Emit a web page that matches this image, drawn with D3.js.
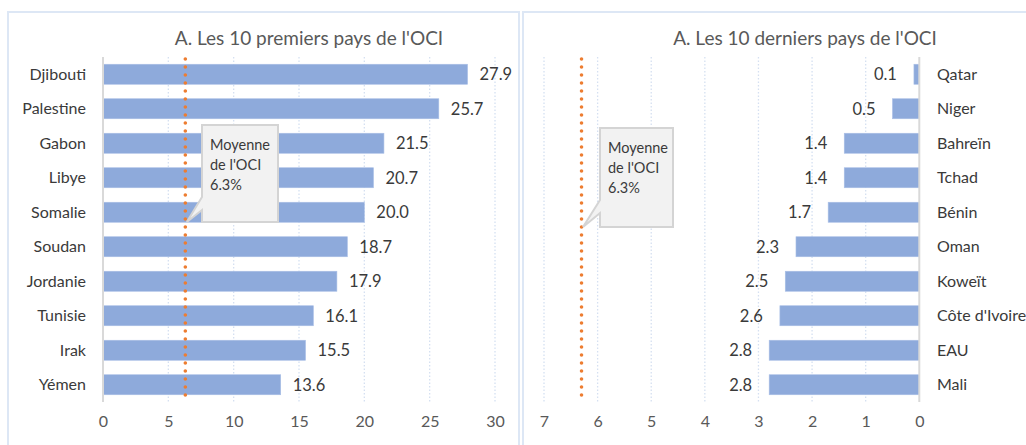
<!DOCTYPE html>
<html>
<head>
<meta charset="utf-8">
<script src="https://cdn.jsdelivr.net/npm/d3@7"></script>
<style>
  html, body { margin: 0; padding: 0; background: #ffffff; overflow: hidden; }
  svg { display: block; font-family: "Lato", "Open Sans", sans-serif; }
</style>
</head>
<body>
<svg id="chart" width="1026" height="445"></svg>
<script>
// ---- data ----
const topTitle = "A. Les 10 premiers pays de l'OCI";
const topCountries = ["Djibouti", "Palestine", "Gabon", "Libye", "Somalie", "Soudan", "Jordanie", "Tunisie", "Irak", "Yémen"];
const topValues = [27.9, 25.7, 21.5, 20.7, 20.0, 18.7, 17.9, 16.1, 15.5, 13.6];
const topTicks = [0, 5, 10, 15, 20, 25, 30];

const bottomTitle = "A. Les 10 derniers pays de l'OCI";
const bottomCountries = ["Qatar", "Niger", "Bahreïn", "Tchad", "Bénin", "Oman", "Koweït", "Côte d'Ivoire", "EAU", "Mali"];
const bottomValues = [0.1, 0.5, 1.4, 1.4, 1.7, 2.3, 2.5, 2.6, 2.8, 2.8];
const bottomTicks = [0, 1, 2, 3, 4, 5, 6, 7];

const oicMean = 6.3;
const calloutLines = ["Moyenne", "de l'OCI", "6.3%"];

// ---- styles ----
const barColor = "#8eaadb";
const meanColor = "#ed7d31";
const gridColor = "#d5e0f1";
const panelBorder = "#dde7f5";
const textDark = "#3a3a3a";
const titleColor = "#595959";

const svg = d3.select("#chart");

// panels
svg.append("rect").attr("x", 8).attr("y", 12).attr("width", 511).attr("height", 450)
  .attr("fill", "#fff").attr("stroke", panelBorder).attr("stroke-width", 2);
svg.append("rect").attr("x", 523).attr("y", 12).attr("width", 520).attr("height", 450)
  .attr("fill", "#fff").attr("stroke", panelBorder).attr("stroke-width", 2);

function drawPanel(cfg) {
  const g = svg.append("g");
  const x = d3.scaleLinear().domain(cfg.domain).range(cfg.range);
  const y = d3.scaleBand().domain(cfg.cats).range([57, 402]).paddingInner(0.42).paddingOuter(0.21);

  // title
  g.append("text").attr("x", cfg.titleX).attr("y", 45).attr("text-anchor", "middle")
    .attr("fill", titleColor).attr("font-size", 19).text(cfg.title);

  // gridlines
  g.append("g").selectAll("line").data(cfg.ticks.filter(t => t !== 0)).join("line")
    .attr("x1", d => x(d)).attr("x2", d => x(d)).attr("y1", 57).attr("y2", 402)
    .attr("stroke", gridColor).attr("stroke-width", 1.3).attr("stroke-dasharray", "1.5,2");

  // x axis
  const ax = g.append("g").attr("transform", "translate(0,416)")
    .call(d3.axisBottom(x).tickValues(cfg.ticks).tickSize(0).tickFormat(d3.format("d")));
  ax.select(".domain").remove();
  ax.selectAll("text").attr("font-size", 16).attr("fill", titleColor)
    .attr("font-family", "Lato, 'Open Sans', sans-serif").attr("dy", "0.71em").attr("y", 0);

  // bars
  g.append("g").selectAll("rect").data(cfg.cats).join("rect")
    .attr("x", (d, i) => Math.min(x(0), x(cfg.values[i])))
    .attr("width", (d, i) => Math.abs(x(cfg.values[i]) - x(0)))
    .attr("y", d => y(d)).attr("height", y.bandwidth())
    .attr("fill", barColor).attr("stroke", "#a9bfe6").attr("stroke-width", 0.6);

  // zero axis line
  g.append("line").attr("x1", x(0)).attr("x2", x(0)).attr("y1", 57).attr("y2", 402)
    .attr("stroke", "#d9d9d9").attr("stroke-width", 2);

  // category labels
  g.append("g").selectAll("text").data(cfg.cats).join("text")
    .attr("x", cfg.catX).attr("y", d => y(d) + y.bandwidth() / 2).attr("dy", "0.35em")
    .attr("text-anchor", cfg.catAnchor).attr("font-size", 16).attr("fill", textDark).text(d => d);

  // value labels
  g.append("g").selectAll("text").data(cfg.cats).join("text")
    .attr("x", (d, i) => x(cfg.values[i]) + cfg.valOffset)
    .attr("y", d => y(d) + y.bandwidth() / 2).attr("dy", "0.35em")
    .attr("text-anchor", cfg.valAnchor).attr("font-size", 16.5).attr("fill", textDark)
    .text((d, i) => d3.format(".1f")(cfg.values[i]));

  // mean line
  const mx = x(oicMean);
  g.append("line").attr("x1", mx).attr("x2", mx).attr("y1", 59).attr("y2", 402)
    .attr("stroke", meanColor).attr("stroke-width", 3.6).attr("stroke-linecap", "round")
    .attr("stroke-dasharray", "0,8");

  // callout
  const b = cfg.box;
  const tipX = mx + 1.5, tipY = b.tipY;
  const path = `M${b.x},${b.y} H${b.x + b.w} V${b.y + b.h} H${b.x} V${b.baseB} L${tipX},${tipY} L${b.x},${b.baseT} Z`;
  g.append("path").attr("d", path).attr("fill", "#f2f2f2").attr("stroke", "#d4d4d4").attr("stroke-width", 2);
  g.append("g").selectAll("text").data(calloutLines).join("text")
    .attr("x", b.x + 8).attr("y", (d, i) => b.y + 20 + i * 20).attr("dy", "0.35em")
    .attr("font-size", 14.5).attr("fill", textDark).text(d => d);
}

drawPanel({
  title: topTitle, titleX: 309, cats: topCountries, values: topValues, ticks: topTicks,
  domain: [0, 30], range: [103, 495],
  catX: 86, catAnchor: "end", valOffset: 12, valAnchor: "start",
  box: { x: 202, y: 125, w: 76, h: 97, baseT: 197, baseB: 210, tipY: 222 }
});

drawPanel({
  title: bottomTitle, titleX: 805, cats: bottomCountries, values: bottomValues, ticks: bottomTicks,
  domain: [0, 7], range: [919.3, 544],
  catX: 937, catAnchor: "start", valOffset: -17, valAnchor: "end",
  box: { x: 600, y: 128, w: 73, h: 99, baseT: 200, baseB: 213, tipY: 227 }
});
</script>
</body>
</html>
